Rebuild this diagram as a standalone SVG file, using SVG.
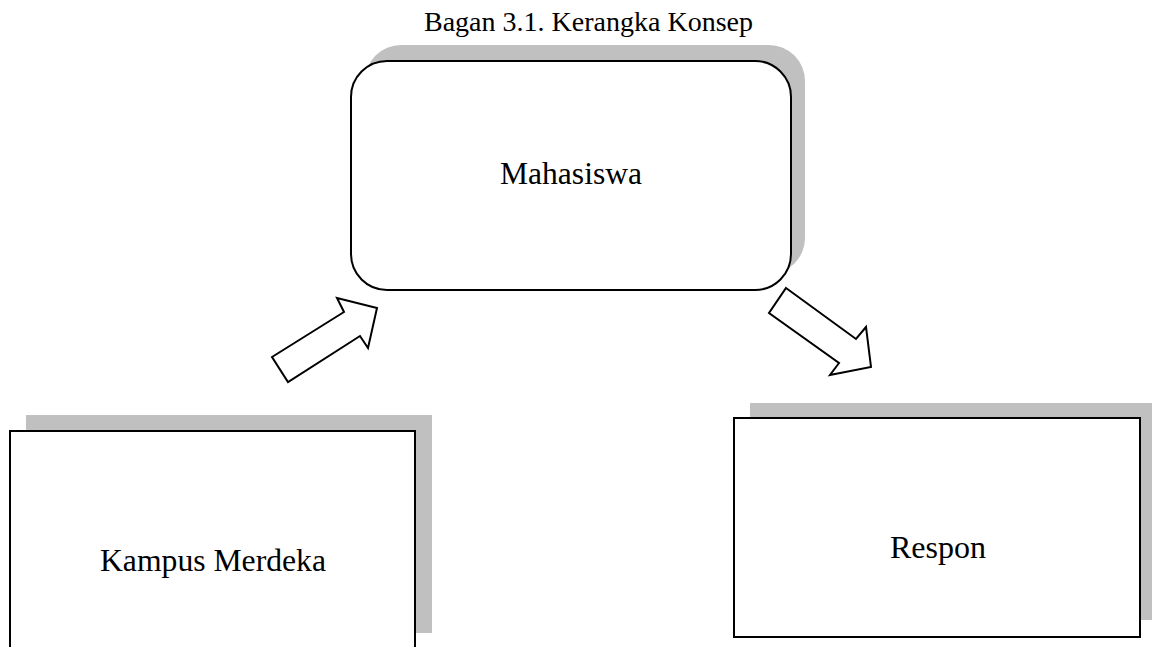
<svg xmlns="http://www.w3.org/2000/svg" width="1152" height="647" viewBox="0 0 1152 647">
<style>
.t{font-family:"Liberation Serif","Times New Roman",serif;fill:#000;text-anchor:middle}
.box{fill:#fff;stroke:#000;stroke-width:2}
.sh{fill:#c0c0c0;stroke:none}
.arr{fill:#fff;stroke:#000;stroke-width:2;stroke-linejoin:miter}
</style>
<rect width="1152" height="647" fill="#fff"/>
<text class="t" x="588.5" y="31" font-size="28" textLength="329" lengthAdjust="spacingAndGlyphs">Bagan 3.1. Kerangka Konsep</text>
<g id="mahasiswa">
<rect class="sh" x="365" y="45" width="440" height="229" rx="36" ry="36"/>
<rect class="box" x="351" y="61" width="440" height="229" rx="36" ry="36"/>
<text class="t" x="571" y="184" font-size="31" textLength="142" lengthAdjust="spacingAndGlyphs">Mahasiswa</text>
</g>
<g id="kampus">
<rect class="sh" x="26" y="415" width="406" height="218"/>
<rect class="box" x="10" y="431" width="405" height="230"/>
<text class="t" x="213" y="571" font-size="31" textLength="226" lengthAdjust="spacingAndGlyphs">Kampus Merdeka</text>
</g>
<g id="respon">
<rect class="sh" x="750" y="403" width="406" height="217"/>
<rect class="box" x="734" y="418" width="406" height="219"/>
<text class="t" x="938" y="558" font-size="31" textLength="96" lengthAdjust="spacingAndGlyphs">Respon</text>
</g>
<g id="connectors">
<polygon class="arr" points="272,357 344,312 337,298 377,308 368,348 360,336 288,382"/>
<polygon class="arr" points="786,288 856,339 866,327 871,367 830,375 839,363 769,313"/>
</g>
</svg>
